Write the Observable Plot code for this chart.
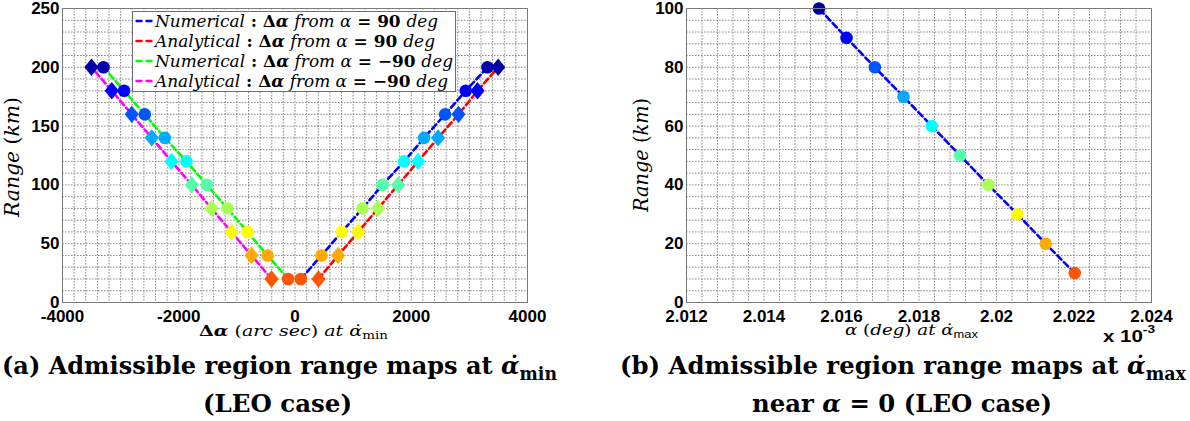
<!DOCTYPE html>
<html>
<head>
<meta charset="utf-8">
<script src="https://cdn.jsdelivr.net/npm/d3@7"></script>
<script src="https://cdn.jsdelivr.net/npm/@observablehq/plot@0.6"></script>
<style>
  body { margin: 0; background: #fff; }
  #page { position: relative; width: 1190px; height: 421px; overflow: hidden; background: #fff; }
  .panel { position: absolute; top: 0; }
  #overlay { position: absolute; left: 0; top: 0; pointer-events: none; }
  #overlay text { white-space: pre; }
</style>
</head>
<body>
<div id="page">
  <div id="panelA" class="panel" style="left:0px"></div>
  <div id="panelB" class="panel" style="left:600px"></div>
</div>
<script>
// ---- Panel (a): admissible region range maps at the minimum range-rate ----
const rangeA = [20, 40, 60, 80, 100, 120, 140, 160, 180, 200];                       // km
const numericalFromPlus90   = [100, 456, 805, 1161, 1505, 1877, 2221, 2582, 2938, 3312];       // arc sec
const analyticalFromPlus90  = [404, 742, 1086, 1430, 1774, 2118, 2462, 2813, 3140, 3495];
const numericalFromMinus90  = [-119, -473, -817, -1161, -1517, -1867, -2240, -2584, -2940, -3295];
const analyticalFromMinus90 = [-404, -748, -1093, -1437, -1776, -2125, -2464, -2808, -3152, -3501];
const xTicksA = [-4000, -2000, 0, 2000, 4000];
const yTicksA = [0, 50, 100, 150, 200, 250];

// ---- Panel (b): range map at the maximum range-rate, near alpha = 0 ----
const rangeB = [10, 20, 30, 40, 50, 60, 70, 80, 90, 100];                            // km
const alphaB = [2.02202, 2.02127, 2.02054, 2.01979, 2.01906, 2.01833, 2.01760, 2.01686, 2.01613, 2.01542]; // deg x 1e-3
const xTicksB = [2.012, 2.014, 2.016, 2.018, 2.02, 2.022, 2.024];
const yTicksB = [0, 20, 40, 60, 80, 100];

// jet(10) colours, ordered from the lowest to the highest range sample
const jet10 = ["#ff5500", "#ffaa00", "#ffff00", "#aaff55", "#55ffaa", "#00ffff", "#00aaff", "#0055ff", "#0000ff", "#0000aa"];

// Legend entries for panel (a)
const seriesKind  = ["Numerical", "Analytical", "Numerical", "Analytical"];
const seriesFrom  = ["90", "90", "\u221290", "\u221290"];
const seriesColor = ["#0000ff", "#ff0000", "#00ff00", "#ff00ff"];

// Diamond marker, wider than d3's symbolDiamond
const wideDiamond = {
  draw(context, size) {
    const a = Math.sqrt(size / Math.PI) * 1.45;
    const b = a * 0.82;
    context.moveTo(0, -a);
    context.lineTo(b, 0);
    context.lineTo(0, a);
    context.lineTo(-b, 0);
    context.closePath();
  }
};

const rows = (xs, ranges) => xs.map((x, i) => ({x, r: ranges[i]}));
const sNumP = rows(numericalFromPlus90, rangeA);
const sAnaP = rows(analyticalFromPlus90, rangeA);
const sNumM = rows(numericalFromMinus90, rangeA);
const sAnaM = rows(analyticalFromMinus90, rangeA);
const sB = rows(alphaB, rangeB);

const axisStyle = {
  fontFamily: "'Liberation Sans', Arial, sans-serif",
  fontSize: "17px",
  fontWeight: "bold",
  color: "#000",
  background: "transparent",
  overflow: "visible"
};
const gridStyle = {stroke: "#8c8c8c", strokeOpacity: 1, strokeWidth: 1, strokeDasharray: "1.6,1.4"};
const dashed = (color) => ({x: "x", y: "r", stroke: color, strokeWidth: 2.6, strokeDasharray: "6,3.5"});

const plotA = Plot.plot({
  width: 560, height: 330,
  marginLeft: 62, marginRight: 33, marginTop: 8, marginBottom: 28,
  style: axisStyle,
  x: {domain: [-4000, 4000]},
  y: {domain: [0, 250]},
  color: {type: "ordinal", domain: rangeA, range: jet10},
  marks: [
    Plot.gridX(d3.range(-4000, 4001, 200), gridStyle),
    Plot.gridY(d3.range(0, 251, 10), gridStyle),
    Plot.line(sNumP, dashed(seriesColor[0])),
    Plot.line(sAnaP, dashed(seriesColor[1])),
    Plot.line(sNumM, dashed(seriesColor[2])),
    Plot.line(sAnaM, dashed(seriesColor[3])),
    Plot.dot(sNumP, {x: "x", y: "r", r: 6.3, fill: "r", symbol: "circle"}),
    Plot.dot(sNumM, {x: "x", y: "r", r: 6.3, fill: "r", symbol: "circle"}),
    Plot.dot(sAnaP, {x: "x", y: "r", r: 6, fill: "r", symbol: wideDiamond}),
    Plot.dot(sAnaM, {x: "x", y: "r", r: 6, fill: "r", symbol: wideDiamond}),
    Plot.axisX(xTicksA, {anchor: "bottom", tickSize: 0, tickPadding: 7, label: null, tickFormat: d => String(d)}),
    Plot.axisY(yTicksA, {anchor: "left", tickSize: 0, tickPadding: 3, label: null, tickFormat: d => String(d)}),
    Plot.frame({stroke: "#7a7a7a"})
  ]
});
document.getElementById("panelA").append(plotA);

const plotB = Plot.plot({
  width: 590, height: 330,
  marginLeft: 86, marginRight: 39, marginTop: 8, marginBottom: 28,
  style: axisStyle,
  x: {domain: [2.012, 2.024]},
  y: {domain: [0, 100]},
  color: {type: "ordinal", domain: rangeB, range: jet10},
  marks: [
    Plot.gridX(d3.range(0, 31).map(i => 2.012 + i * 0.0004), gridStyle),
    Plot.gridY(d3.range(0, 101, 4), gridStyle),
    Plot.line(sB, dashed("#0000ff")),
    Plot.dot(sB, {x: "x", y: "r", r: 6.3, fill: "r", symbol: "circle"}),
    Plot.axisX(xTicksB, {anchor: "bottom", tickSize: 0, tickPadding: 7, label: null, tickFormat: d => String(d)}),
    Plot.axisY(yTicksB, {anchor: "left", tickSize: 0, tickPadding: 3, label: null, tickFormat: d => String(d)}),
    Plot.frame({stroke: "#7a7a7a"})
  ]
});
document.getElementById("panelB").append(plotB);

// ---- Labels, legend and captions drawn as rich SVG text ----
const overlay = d3.select("#page").append("svg")
  .attr("id", "overlay").attr("width", 1190).attr("height", 421);

const SERIF = "'DejaVu Serif', 'Liberation Serif', serif";
const SANS = "'Liberation Sans', Arial, sans-serif";

function richText(g, o, pieces) {
  const t = g.append("text")
    .attr("x", o.x).attr("y", o.y)
    .attr("font-size", o.size).attr("font-family", o.family || SERIF)
    .attr("text-anchor", o.anchor || "start").attr("fill", "#000");
  if (o.weight) t.attr("font-weight", o.weight);
  if (o.rotate) t.attr("transform", `rotate(${o.rotate} ${o.x} ${o.y})`);
  if (o.length) t.attr("textLength", o.length).attr("lengthAdjust", "spacingAndGlyphs");
  for (const p of pieces) {
    const s = t.append("tspan").text(p.t);
    if (p.i) s.attr("font-style", "italic");
    if (p.b !== undefined) s.attr("font-weight", p.b ? "bold" : "normal");
    if (p.fs) s.attr("font-size", p.fs);
    if (p.f) s.attr("font-family", p.f);
    if (p.dy) s.attr("dy", p.dy);
  }
  return t;
}

const ADOT = "\u03b1\u0307";

// Legend of panel (a)
const leg = overlay.append("g");
leg.append("rect").attr("x", 132.5).attr("y", 11.5).attr("width", 323).attr("height", 80)
  .attr("fill", "#fff").attr("stroke", "#6e6e6e").attr("stroke-width", 1);
const legBase = [26.5, 46.5, 66.5, 86.5];
const legLen = [283, 280, 298, 293];
seriesKind.forEach((kind, k) => {
  leg.append("line").attr("x1", 135.5).attr("x2", 152.5)
    .attr("y1", legBase[k] - 5.5).attr("y2", legBase[k] - 5.5)
    .attr("stroke", seriesColor[k]).attr("stroke-width", 2.6).attr("stroke-dasharray", "7,3");
  richText(leg, {x: 155, y: legBase[k], size: 16, length: legLen[k]}, [
    {t: kind, i: true},
    {t: " : ", b: true},
    {t: "\u0394", b: true},
    {t: "\u03b1", b: true, i: true},
    {t: " from ", i: true},
    {t: "\u03b1", i: true},
    {t: " = " + seriesFrom[k] + " ", b: true},
    {t: "deg", i: true}
  ]);
});

// Axis titles
richText(overlay, {x: 18.5, y: 157, size: 20, anchor: "middle", rotate: -90, length: 120},
  [{t: "Range ", i: true}, {t: "(", i: false}, {t: "km", i: true}, {t: ")"}]);
richText(overlay, {x: 647.5, y: 155, size: 20, anchor: "middle", rotate: -90, length: 114},
  [{t: "Range ", i: true}, {t: "(", i: false}, {t: "km", i: true}, {t: ")"}]);

richText(overlay, {x: 199, y: 336, size: 15.5, length: 189}, [
  {t: "\u0394", b: true}, {t: "\u03b1", b: true, i: true},
  {t: " (" }, {t: "arc sec", i: true}, {t: ") "},
  {t: "at ", i: true}, {t: ADOT, i: true},
  {t: "min", fs: 11, dy: 3}
]);
richText(overlay, {x: 845, y: 335, size: 15.5, length: 133}, [
  {t: "\u03b1", i: true},
  {t: " (" }, {t: "deg", i: true}, {t: ") "},
  {t: "at ", i: true}, {t: ADOT, i: true},
  {t: "max", fs: 11, f: SANS, dy: 3}
]);

// Exponent of panel (b) x axis
richText(overlay, {x: 1103, y: 342, size: 16.5, family: SANS, weight: "bold", length: 52}, [
  {t: "x 10"}, {t: "-3", fs: 11, dy: -9}
]);

// Sub-figure captions
richText(overlay, {x: 2, y: 374, size: 25, weight: "bold", length: 555}, [
  {t: "(a) Admissible region range maps at "},
  {t: ADOT, i: true},
  {t: "min", fs: 18, dy: 6}
]);
richText(overlay, {x: 203, y: 412, size: 25, weight: "bold", length: 149}, [{t: "(LEO case)"}]);

richText(overlay, {x: 620, y: 374, size: 25, weight: "bold", length: 566}, [
  {t: "(b) Admissible region range maps at "},
  {t: ADOT, i: true},
  {t: "max", fs: 18, dy: 6}
]);
richText(overlay, {x: 752, y: 412, size: 25, weight: "bold", length: 300}, [
  {t: "near "}, {t: "\u03b1", i: true}, {t: " = 0 (LEO case)"}
]);
</script>
</body>
</html>
